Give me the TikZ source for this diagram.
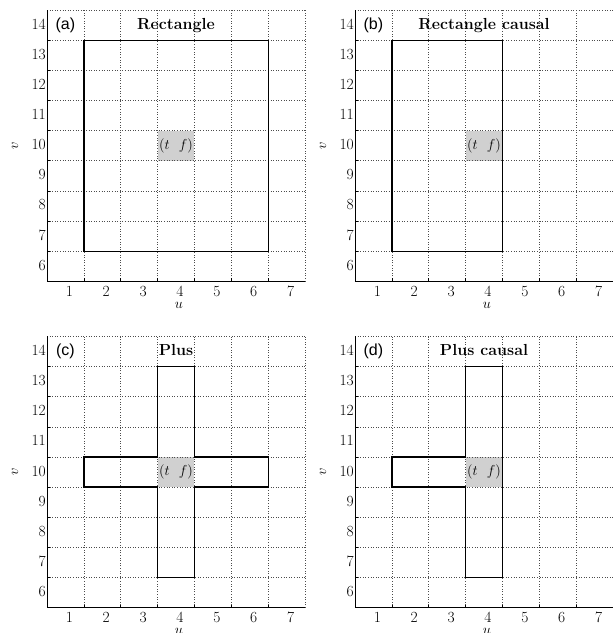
\documentclass[tikz,border=0pt]{standalone}
\usepackage{fontspec}
\newfontfamily\lsans{Liberation Sans}
\definecolor{cellgray}{RGB}{208,208,208}
\tikzset{
  gridline/.style={black!70, dotted, line width=0.6pt},
  axisline/.style={black, line width=0.8pt},
  shapeline/.style={black, line width=1.3pt},
  ticklab/.style={font=\fontsize{15.5}{17}\selectfont, inner sep=0pt},
  titlelab/.style={font=\fontsize{16}{18}\selectfont\bfseries, inner sep=0pt, anchor=base},
  panlab/.style={font=\fontsize{16}{18}\selectfont\lsans, inner sep=0pt},
  axlab/.style={font=\fontsize{15}{17}\selectfont, inner sep=0pt},
  tflab/.style={font=\fontsize{15}{17}\selectfont, inner sep=0pt},
}
\newcommand\drawpanel[5]{%
  \begin{scope}[shift={(#1pt,#2pt)}, x=36.86pt, y=30.14pt]
    \fill[cellgray] (3.5,9.5) rectangle (4.5,10.5);
    \foreach \g in {1.5,2.5,...,7.5} \draw[gridline] (\g,5.5) -- (\g,14.5);
    \foreach \g in {6.5,7.5,...,14.5} \draw[gridline] (0.5,\g) -- (7.5,\g);
    \foreach \g in {1.5,2.5,...,6.5} \draw[axisline, line width=0.5pt] (\g,5.5) -- ++(0,3pt);
    \foreach \g in {6.5,7.5,...,13.5} \draw[axisline, line width=0.5pt] (0.5,\g) -- ++(3pt,0);
    \draw[axisline] (0.5,14.5) -- (0.5,5.5) -- (7.5,5.5);
    #5
    \node[tflab] (#3-tf) at (4,10) {$(t\ \ f)$};
    \foreach \i in {1,...,7} \node[ticklab] (#3-u\i) at ([xshift=4pt,yshift=-10pt]\i,5.5) {\i};
    \foreach \j in {6,...,14} \node[ticklab, anchor=base east] (#3-v\j) at ([xshift=-1pt,yshift=-4pt]0.5,\j) {\j};
    \node[axlab] (#3-ulab) at ([xshift=3pt,yshift=-24pt]4,5.5) {$u$};
    \node[axlab, rotate=90] (#3-vlab) at ([xshift=-32pt]0.5,10) {$v$};
    \node[panlab] (#3-pl) at (1,14) {(#3)};
    \node[titlelab] (#3-title) at ([yshift=-4pt]4,14) {#4};
  \end{scope}}
\begin{document}
\begin{tikzpicture}
\useasboundingbox (0,0) rectangle (613pt,633pt);
\drawpanel{28.57}{185.93}{a}{Rectangle}{\draw[shapeline] (1.5,6.5) rectangle (6.5,13.5);}
\drawpanel{336.57}{185.93}{b}{Rectangle causal}{\draw[shapeline] (1.5,6.5) rectangle (4.5,13.5);}
\drawpanel{28.57}{-140.47}{c}{Plus}{\draw[shapeline] (3.5,6.5) -- (4.5,6.5) -- (4.5,9.5) -- (6.5,9.5) -- (6.5,10.5) -- (4.5,10.5) -- (4.5,13.5) -- (3.5,13.5) -- (3.5,10.5) -- (1.5,10.5) -- (1.5,9.5) -- (3.5,9.5) -- cycle;}
\drawpanel{336.57}{-140.47}{d}{Plus causal}{\draw[shapeline] (3.5,6.5) -- (4.5,6.5) -- (4.5,13.5) -- (3.5,13.5) -- (3.5,10.5) -- (1.5,10.5) -- (1.5,9.5) -- (3.5,9.5) -- cycle;}
\end{tikzpicture}
\end{document}
